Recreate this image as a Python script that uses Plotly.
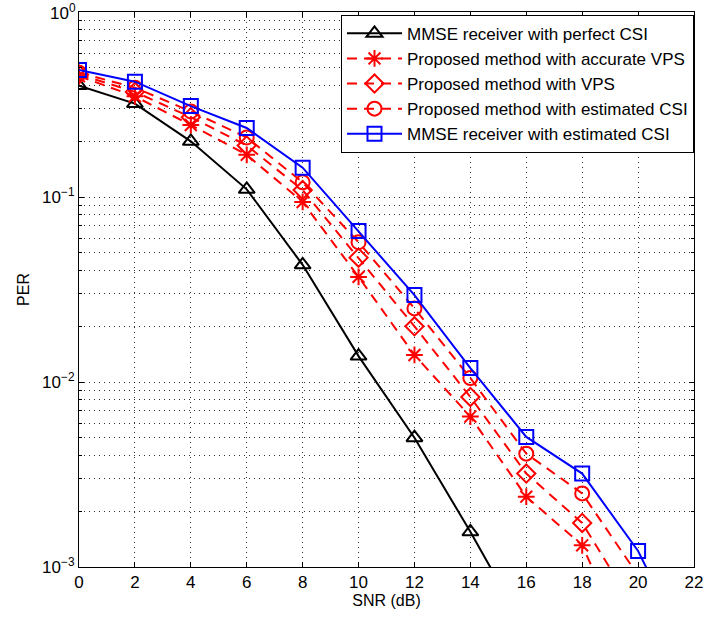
import plotly.graph_objects as go

snr = [0, 2, 4, 6, 8, 10, 12, 14, 16, 18, 20, 22]

per_mmse_perfect = [0.40, 0.32, 0.20, 0.11, 0.043, 0.0138, 0.0050, 0.00155, 0.00045]
per_prop_accurate_vps = [0.45, 0.35, 0.245, 0.169, 0.094, 0.037, 0.014, 0.0065, 0.0024, 0.00131, 0.00028]
per_prop_vps = [0.46, 0.37, 0.27, 0.19, 0.109, 0.047, 0.020, 0.0083, 0.0032, 0.00173, 0.00056]
per_prop_est_csi = [0.47, 0.39, 0.29, 0.21, 0.12, 0.057, 0.025, 0.0105, 0.0041, 0.0025, 0.0009]
per_mmse_est_csi = [0.486, 0.42, 0.31, 0.236, 0.144, 0.0655, 0.0295, 0.0119, 0.00505, 0.0032, 0.00122, 0.0003]

names = [
    "MMSE receiver with perfect CSI",
    "Proposed method with accurate VPS",
    "Proposed method with VPS",
    "Proposed method with estimated CSI",
    "MMSE receiver with estimated CSI",
]

x_ticks = list(range(0, 23, 2))
y_ticks = [1e-3, 1e-2, 1e-1, 1]
y_tick_text = ["10<sup>−3</sup>", "10<sup>−2</sup>", "10<sup>−1</sup>", "10<sup>0</sup>"]
y_minor = [m * 10 ** e for e in (-3, -2, -1) for m in range(2, 10)]

font_family = "Liberation Sans, Arial, sans-serif"
grid_dash = "1px,4px"
grid_color = "rgba(0,0,0,0.8)"
tick_font = dict(size=17, color="black", family=font_family)

fig = go.Figure()

series = [
    (per_mmse_perfect, "black", "solid", "triangle-up-open"),
    (per_prop_accurate_vps, "red", "10px,7px", "asterisk-open"),
    (per_prop_vps, "red", "10px,7px", "diamond-open"),
    (per_prop_est_csi, "red", "10px,7px", "circle-open"),
    (per_mmse_est_csi, "blue", "solid", "square-open"),
]

for (vals, color, dash, sym), name in zip(series, names):
    fig.add_trace(go.Scatter(
        x=snr[:len(vals)], y=vals, name=name, mode="lines+markers",
        line=dict(color=color, width=2, dash=dash),
        marker=dict(symbol=sym, size=14, color=color, line=dict(color=color, width=2)),
    ))

axis_common = dict(
    showline=True, linecolor="black", linewidth=1, mirror="ticks",
    ticks="inside", ticklen=5, tickcolor="black",
    showgrid=True, gridcolor=grid_color, griddash=grid_dash, gridwidth=1,
    zeroline=False, automargin=False, tickfont=tick_font,
)

fig.update_xaxes(
    range=[0, 22], tickvals=x_ticks, ticktext=[str(t) for t in x_ticks],
    title=dict(text="SNR (dB)", font=dict(size=16, color="black", family=font_family), standoff=2),
    **axis_common,
)
# the top label (10^0) is drawn as an annotation so it is never culled at the edge
fig.update_yaxes(
    type="log", range=[-3, 0], tickvals=y_ticks, ticktext=y_tick_text[:-1] + [""],
    title=dict(text="PER", font=dict(size=16, color="black", family=font_family), standoff=8),
    minor=dict(tickvals=y_minor, ticks="inside", ticklen=3, tickcolor="black",
               showgrid=True, gridcolor=grid_color, griddash=grid_dash, gridwidth=1),
    **axis_common,
)
fig.add_annotation(
    x=0, xref="x", y=0, yref="y", text=y_tick_text[-1], showarrow=False,
    xanchor="right", yanchor="middle", xshift=-1, font=tick_font,
)

fig.update_layout(
    width=706, height=623,
    margin=dict(l=79, r=12, t=12, b=56),
    plot_bgcolor="white", paper_bgcolor="white",
    font=dict(family=font_family, color="black"),
    showlegend=True,
    legend=dict(
        x=1, xanchor="right", y=0.995, yanchor="top",
        bgcolor="white", bordercolor="black", borderwidth=1,
        font=dict(size=17, color="black", family=font_family),
        itemwidth=55, tracegroupgap=0,
    ),
)

fig.write_html("out.html")
